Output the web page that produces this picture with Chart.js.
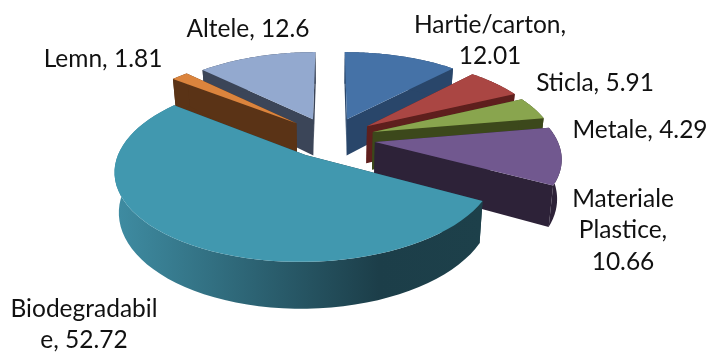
<!DOCTYPE html>
<html>
<head>
<meta charset="utf-8">
<title>Compozitie deseuri</title>
<script src="https://cdn.jsdelivr.net/npm/chart.js@4"></script>
<style>
    html, body { margin: 0; padding: 0; background: #fff; }
    canvas { display: block; }
</style>
</head>
<body>
<canvas id="pieChart" width="712" height="353"></canvas>
<script>
// Values
const categories = ['Hartie/carton', 'Sticla', 'Metale', 'Materiale Plastice', 'Biodegradabile', 'Lemn', 'Altele'];
const values = [12.01, 5.91, 4.29, 10.66, 52.72, 1.81, 12.6];
const topColors = ['#4572a7', '#aa4643', '#89a54e', '#71588f', '#4198af', '#db843d', '#93a9cf'];
const wallColors = ['#29466a', '#5e1f1d', '#3c481b', '#2d2238', '#1c3e49', '#5a3316', '#3b4558'];

// Where each label wraps (char index), and where its block sits
const labelBreaks = [[14], [], [], [9, 19], [13], [], []];
const labelCenters = [[490, 25], [595, 83], [640, 130], [623, 199], [84, 309], [103, 59], [248, 29]];
const LINE_HEIGHT = 31.5;

// 3D look: back slices first so the front ones cover them
const paintOrder = [0, 6, 1, 5, 2, 3, 4];
// how far each slice is pulled out of the pie, in radii
const pullU = [0.091, 0.203, 0.233, 0.24, -0.136, -0.196, -0.103];
const pullV = [-0.18, -0.09, -0.018, 0.102, 0.252, -0.127, -0.18];
const SCALE_X = 180;
const SCALE_Y = 82;
const PERSPECTIVE = 0.16;
const DEPTH = 37.5;
const STEPS = 60;

function project(el, u, v, z) {
    const s = 1 / (1 - PERSPECTIVE * v);
    return [
        el.x + SCALE_X * u * s * (1 - 0.02 * z),
        el.y + SCALE_Y * v * s + DEPTH * z * s,
    ];
}

function drawSlice(ctx, el, index) {
    const cu = pullU[index];
    const cv = pullV[index];
    const rim = [];
    for (let i = 0; i <= STEPS; i++) {
        const a = el.startAngle + (el.endAngle - el.startAngle) * i / STEPS;
        rim.push([cu + Math.cos(a), cv + Math.sin(a)]);
    }
    const poly = (pts, fill) => {
        ctx.beginPath();
        pts.forEach((p, i) => (i ? ctx.lineTo(p[0], p[1]) : ctx.moveTo(p[0], p[1])));
        ctx.closePath();
        ctx.fillStyle = fill;
        ctx.fill();
    };
    const at = (p, z) => project(el, p[0], p[1], z);
    const apex = [cu, cv];
    let wall = wallColors[index];

    // big slice has the shaded rim
    if (index === 4) {
        const g = ctx.createLinearGradient(113, 0, 482, 0);
        g.addColorStop(0, '#3f8da3');
        g.addColorStop(0.72, wall);
        g.addColorStop(1, '#1d404a');
        wall = g;
    }

    // cut faces
    [rim[0], rim[STEPS]].forEach((p) => {
        poly([at(apex, 0), at(p, 0), at(p, 1), at(apex, 1)], wallColors[index]);
    });
    // outer wall
    poly(rim.map((p) => at(p, 0)).concat(rim.slice().reverse().map((p) => at(p, 1))), wall);
    // top
    poly([at(apex, 0)].concat(rim.map((p) => at(p, 0))), topColors[index]);
}

function labelLines(index) {
    const text = `${categories[index]}, ${values[index]}`;
    const cuts = [0].concat(labelBreaks[index], [text.length]);
    const lines = [];
    for (let i = 0; i < cuts.length - 1; i++) {
        lines.push(text.slice(cuts[i], cuts[i + 1]).trim());
    }
    return lines;
}

const pie3d = {
    id: 'pie3d',
    beforeDatasetDraw(chart, args) {
        const ctx = chart.ctx;
        const arcs = chart.getDatasetMeta(args.index).data;
        ctx.save();
        paintOrder.forEach((i) => drawSlice(ctx, arcs[i], i));
        ctx.restore();
        return false;
    },
    afterDraw(chart) {
        const ctx = chart.ctx;
        ctx.save();
        ctx.font = '24.5px Lato';
        ctx.fillStyle = '#111';
        ctx.textAlign = 'center';
        ctx.textBaseline = 'middle';
        categories.forEach((c, i) => {
            const lines = labelLines(i);
            const [cx, first] = labelCenters[i];
            lines.forEach((line, n) => ctx.fillText(line, cx, first + n * LINE_HEIGHT));
        });
        ctx.restore();
    },
};

new Chart(document.getElementById('pieChart'), {
    type: 'pie',
    data: {
        labels: categories,
        datasets: [{ data: values, backgroundColor: topColors, borderWidth: 0 }],
    },
    options: {
        responsive: false,
        animation: false,
        layout: { padding: { left: 0, right: 50, top: 0, bottom: 86 } },
        plugins: { legend: { display: false }, tooltip: { enabled: false } },
    },
    plugins: [pie3d],
});
</script>
</body>
</html>
